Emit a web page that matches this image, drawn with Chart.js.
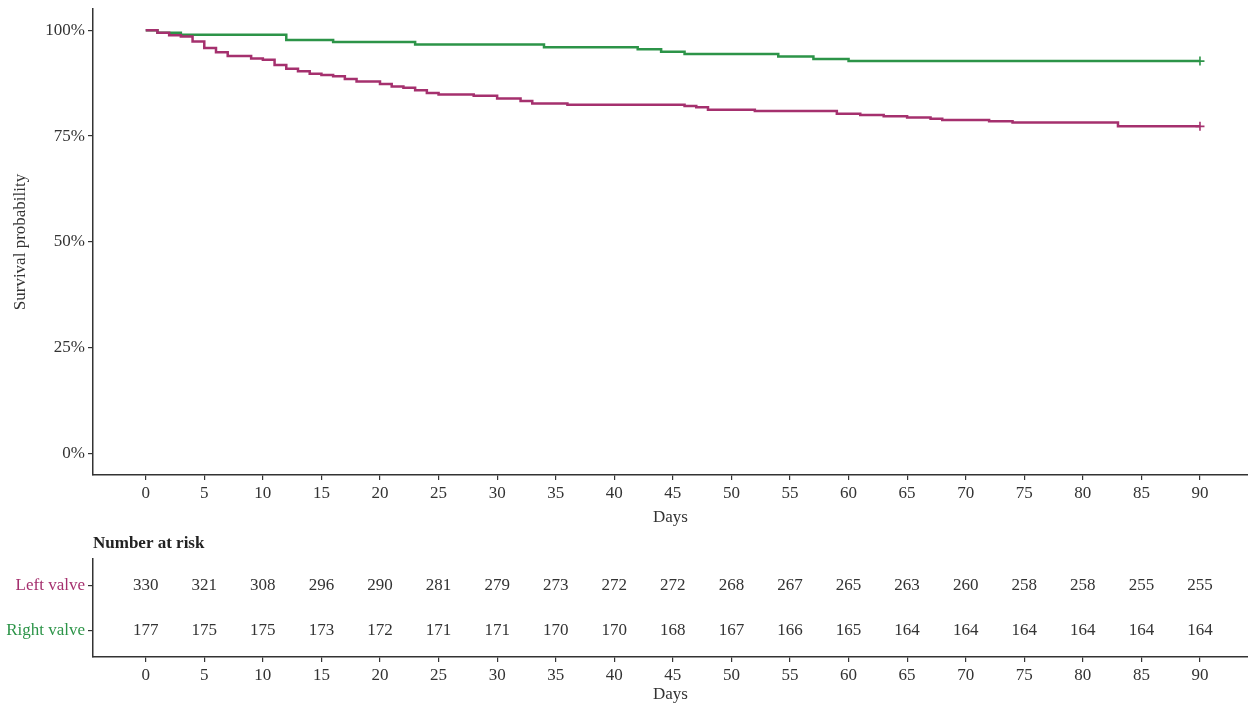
<!DOCTYPE html>
<html>
<head>
<meta charset="utf-8">
<script src="https://cdn.jsdelivr.net/npm/chart.js@4.4.1/dist/chart.umd.min.js"></script>
<style>
  html, body { margin: 0; padding: 0; background: #fff; overflow: hidden; }
  #km { position: absolute; left: 0; top: 0; }
  #risk { position: absolute; left: 0; top: 530px; }
</style>
</head>
<body>
<canvas id="km" width="1248" height="530"></canvas>
<canvas id="risk" width="1248" height="177"></canvas>
<script>
// groups and colours
const groups = ['Left valve', 'Right valve'];
const colors = ['#a5306e', '#2c9448'];

// Kaplan-Meier steps (day, survival %)
const leftDays = [0, 1, 2, 3, 4, 5, 6, 7, 9, 10, 11, 12, 13, 14, 15, 16, 17, 18, 20, 21,
                  22, 23, 24, 25, 28, 30, 32, 33, 36, 46, 47, 48, 52, 59, 61, 63, 65, 67, 68, 72,
                  74, 83, 90];
const leftSurv = [100, 99.4, 98.8, 98.5, 97.3, 95.8, 94.8, 93.9, 93.3, 93.0, 91.8, 90.9, 90.3, 89.7, 89.4, 89.1, 88.5, 87.9, 87.3, 86.7,
                  86.4, 85.8, 85.2, 84.8, 84.5, 83.9, 83.3, 82.7, 82.4, 82.1, 81.8, 81.2, 80.9, 80.3, 80.0, 79.7, 79.4, 79.1, 78.8, 78.5,
                  78.2, 77.3, 77.3];
const rightDays = [0, 1, 3, 12, 16, 23, 34, 42, 44, 46, 54, 57, 60, 90];
const rightSurv = [100, 99.4, 98.9, 97.7, 97.2, 96.6, 96.0, 95.5, 94.9, 94.4, 93.8, 93.2, 92.7, 92.7];

// number at risk table
const dayTicks = [0, 5, 10, 15, 20, 25, 30, 35, 40, 45, 50, 55, 60, 65, 70, 75, 80, 85, 90];
const leftRisk = [330, 321, 308, 296, 290, 281, 279, 273, 272, 272, 268, 267, 265, 263, 260, 258, 258, 255, 255];
const rightRisk = [177, 175, 175, 173, 172, 171, 171, 170, 170, 168, 167, 166, 165, 164, 164, 164, 164, 164, 164];
const yTicks = [0, 25, 50, 75, 100];

const ink = '#333333';
Chart.defaults.font.family = "'Liberation Serif', 'DejaVu Serif', serif";
Chart.defaults.font.size = 17;
Chart.defaults.color = ink;

const axisGrid = {drawOnChartArea: false, drawTicks: true, tickLength: 5, color: ink, lineWidth: 1.2};
const axisBorder = {display: true, color: ink, width: 1.5};

// fix the box size and drop the label overhang padding chart.js adds
function fixBox(s, w, h) {
    if (w !== null) s.width = w;
    if (h !== null) s.height = h;
    s.paddingTop = 0;
    s.paddingBottom = 0;
    s.paddingLeft = 0;
    s.paddingRight = 0;
}

function steps(days, surv) {
    return days.map((d, i) => ({x: d, y: surv[i]}));
}

function kmSet(i, days, surv) {
    return {
        label: groups[i],
        data: steps(days, surv),
        borderColor: colors[i],
        backgroundColor: colors[i],
        borderWidth: 2.5,
        stepped: true,
        fill: false,
        clip: false,
        pointStyle: 'cross',
        pointRadius: ctx => ctx.dataIndex === days.length - 1 ? 4.5 : 0,
        pointBorderWidth: 1.6,
        pointHoverRadius: 0
    };
}

const xAxis = (h) => ({
    type: 'linear',
    min: -4.5,
    max: 94.1,
    afterBuildTicks: s => { s.ticks = dayTicks.map(v => ({value: v})); },
    afterFit: s => fixBox(s, null, h),
    grid: axisGrid,
    border: axisBorder,
    ticks: {padding: 3, maxRotation: 0, autoSkip: false, color: ink},
    title: {display: true, text: 'Days', color: ink, padding: {top: 4, bottom: 2}}
});

new Chart(document.getElementById('km'), {
    type: 'line',
    data: {
        datasets: [
            kmSet(0, leftDays, leftSurv),
            kmSet(1, rightDays, rightSurv)
        ]
    },
    options: {
        responsive: false,
        animation: false,
        layout: {autoPadding: false, padding: {top: 9, right: 0, bottom: 0, left: 0}},
        plugins: {legend: {display: false}, tooltip: {enabled: false}},
        scales: {
            x: xAxis(55),
            y: {
                min: -5,
                max: 105,
                afterBuildTicks: s => { s.ticks = yTicks.map(v => ({value: v})); },
                afterFit: s => fixBox(s, 93, null),
                grid: axisGrid,
                border: axisBorder,
                ticks: {padding: 3, color: ink, callback: v => v + '%'},
                title: {display: true, text: 'Survival probability', color: ink, padding: {top: 10, bottom: 0}}
            }
        }
    }
});

// risk table: rows on a linear y scale, numbers written at the data points
const rowY = [2, 1];
const riskCounts = [leftRisk, rightRisk];

const riskText = {
    id: 'riskText',
    afterDatasetsDraw(chart) {
        const ctx = chart.ctx;
        ctx.save();
        ctx.font = "17px 'Liberation Serif', 'DejaVu Serif', serif";
        ctx.fillStyle = ink;
        ctx.textAlign = 'center';
        ctx.textBaseline = 'middle';
        chart.data.datasets.forEach((ds, i) => {
            chart.getDatasetMeta(i).data.forEach((pt, j) => {
                ctx.fillText(String(riskCounts[i][j]), pt.x, pt.y);
            });
        });
        ctx.restore();
    }
};

new Chart(document.getElementById('risk'), {
    type: 'scatter',
    data: {
        datasets: groups.map((g, i) => ({
            label: g,
            data: dayTicks.map(d => ({x: d, y: rowY[i]})),
            pointRadius: 0,
            pointHoverRadius: 0,
            showLine: false
        }))
    },
    options: {
        responsive: false,
        animation: false,
        layout: {autoPadding: false, padding: 0},
        plugins: {
            legend: {display: false},
            tooltip: {enabled: false},
            title: {
                display: true,
                text: 'Number at risk',
                align: 'start',
                fullSize: false,
                color: '#222',
                font: {size: 17, weight: 'bold'},
                padding: {top: 3, bottom: 5}
            }
        },
        scales: {
            x: xAxis(50),
            y: {
                min: 0.4,
                max: 2.6,
                afterBuildTicks: s => { s.ticks = rowY.map(v => ({value: v})); },
                afterFit: s => fixBox(s, 93, null),
                grid: axisGrid,
                border: axisBorder,
                ticks: {
                    padding: 3,
                    callback: v => groups[rowY.indexOf(v)],
                    color: ctx => colors[rowY.indexOf(ctx.tick.value)]
                }
            }
        }
    },
    plugins: [riskText]
});
</script>
</body>
</html>
